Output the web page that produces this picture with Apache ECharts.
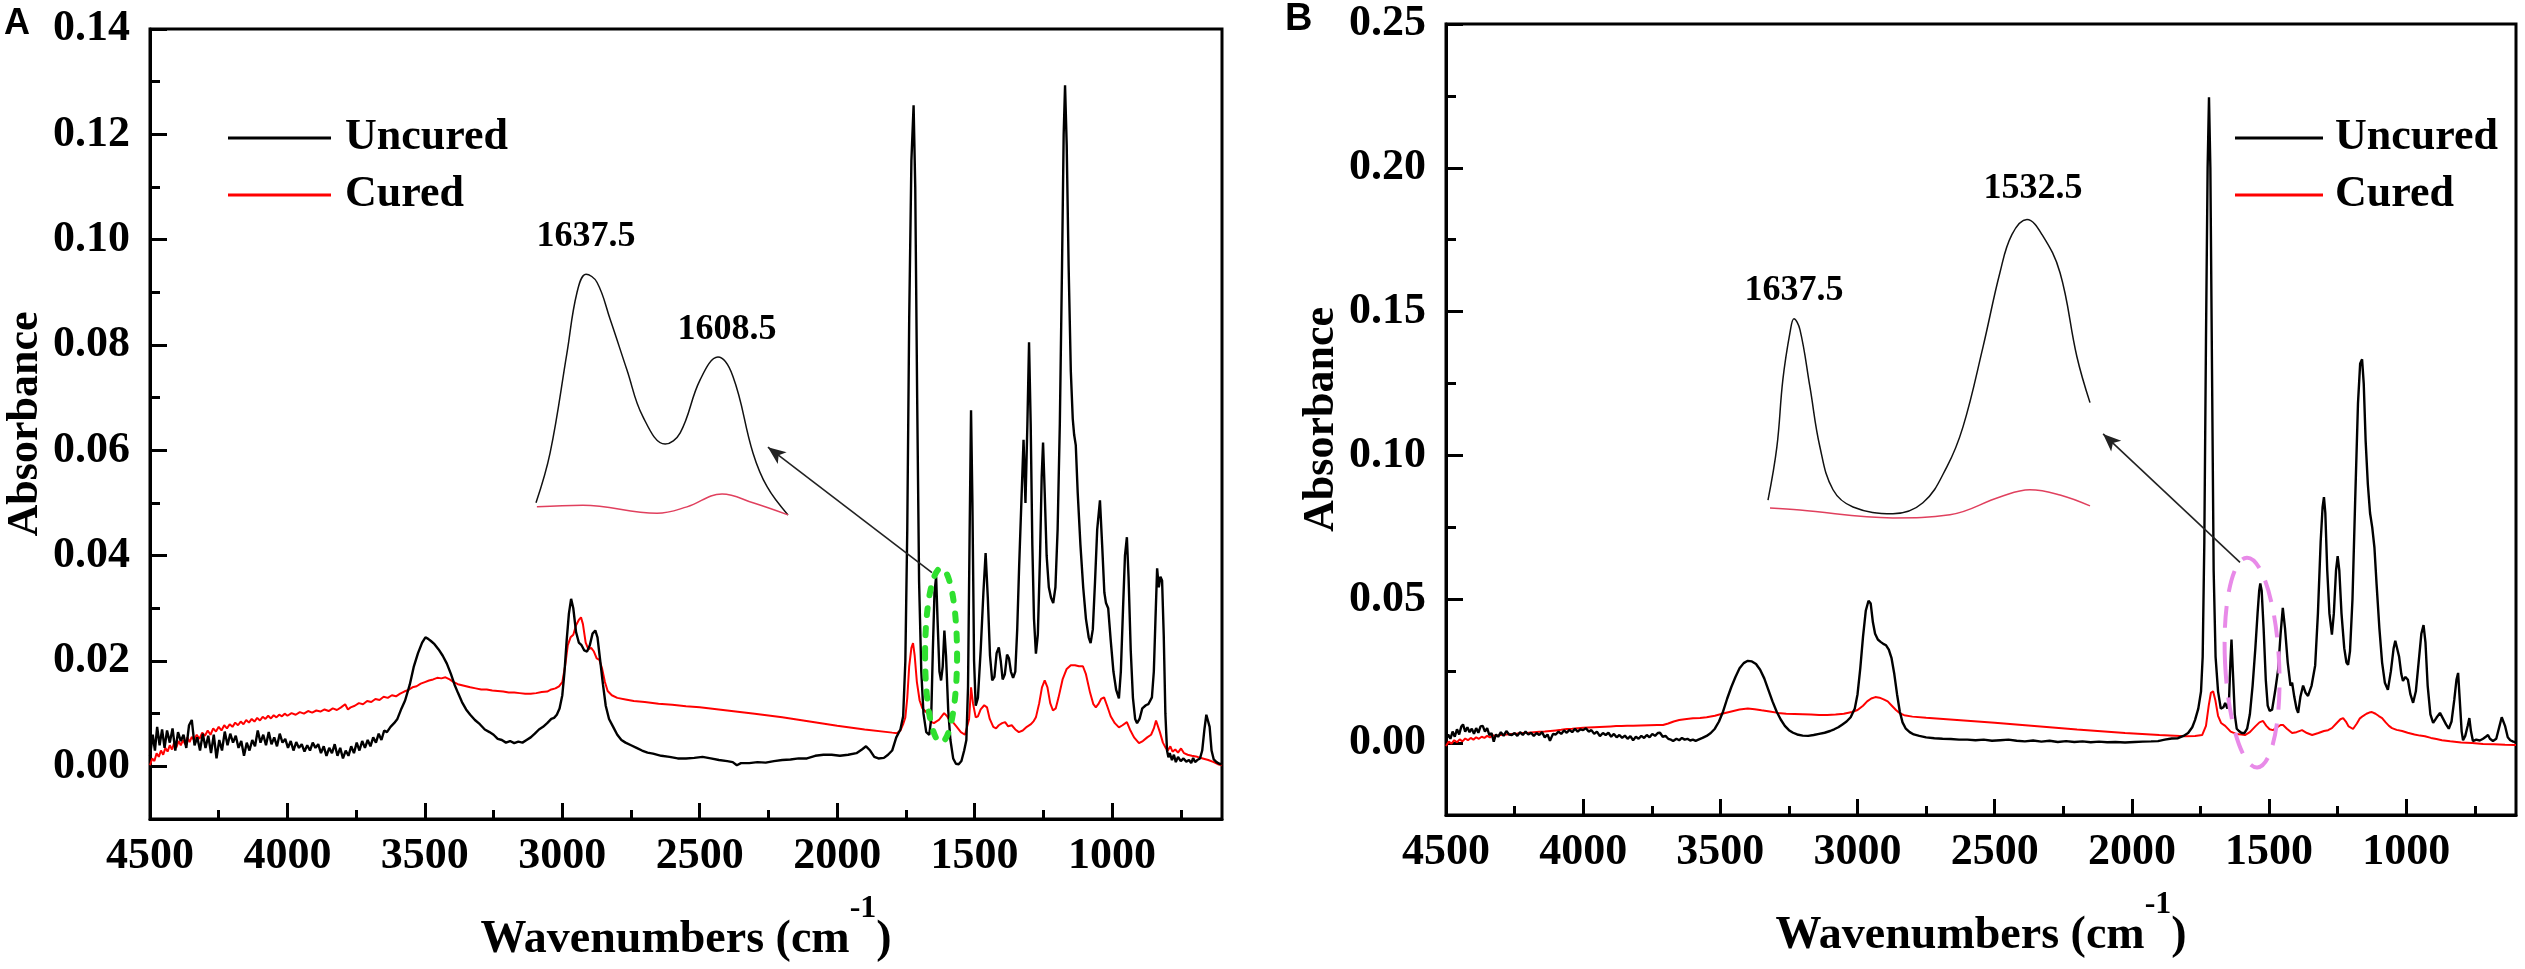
<!DOCTYPE html>
<html>
<head>
<meta charset="utf-8">
<title>FTIR uncured / cured</title>
<script src="https://cdn.jsdelivr.net/npm/echarts@6/dist/echarts.min.js"></script>
<style>
  html, body { margin: 0; padding: 0; background: #fff; }
  #chart { width: 2525px; height: 969px; }
</style>
</head>
<body>
<div id="chart"></div>
<script>
// ---- tick labels ----
var xTicks = [4500, 4000, 3500, 3000, 2500, 2000, 1500, 1000];
var xMinorTicks = [4250, 3750, 3250, 2750, 2250, 1750, 1250, 750];
var yTicksA = [0, 0.02, 0.04, 0.06, 0.08, 0.10, 0.12, 0.14];
var yMinorTicksA = [0.01, 0.03, 0.05, 0.07, 0.09, 0.11, 0.13];
var yTicksB = [0, 0.05, 0.10, 0.15, 0.20, 0.25];
var yMinorTicksB = [0.025, 0.075, 0.125, 0.175, 0.225];
var seriesNames = ['Uncured', 'Cured'];

// ---- panel A spectra [wavenumber, absorbance] ----
var aUncured = [
  [4500,0.002],[4490,0.006],[4482,0.003],[4474,0.0075],[4465,0.004],[4456,0.007],[4447,0.0035],[4438,0.0068],
  [4428,0.0045],[4418,0.0072],[4408,0.003],[4398,0.0065],[4388,0.0048],[4378,0.006],[4368,0.0035],[4358,0.0078],
  [4348,0.0088],[4338,0.004],[4328,0.0055],[4318,0.003],[4308,0.0062],[4298,0.0035],[4288,0.0058],[4278,0.0025],
  [4268,0.006],[4258,0.0015],[4248,0.005],[4238,0.003],[4228,0.0066],[4218,0.004],[4208,0.0062],[4198,0.0045],
  [4188,0.0058],[4178,0.0035],[4168,0.0048],[4158,0.002],[4148,0.0045],[4138,0.003],[4128,0.005],[4118,0.0038],
  [4108,0.0068],[4098,0.0045],[4088,0.006],[4078,0.004],[4068,0.0065],[4058,0.0042],[4048,0.0055],[4038,0.0038],
  [4028,0.0062],[4018,0.0045],[4008,0.0052],[3998,0.0035],[3988,0.0048],[3978,0.003],[3968,0.0046],[3958,0.0035],
  [3948,0.0042],[3938,0.0028],[3928,0.004],[3918,0.003],[3908,0.0045],[3898,0.0035],[3888,0.0042],[3878,0.0025],
  [3868,0.0038],[3858,0.002],[3848,0.0035],[3838,0.0025],[3828,0.0042],[3818,0.002],[3808,0.0035],[3798,0.0015],
  [3788,0.003],[3778,0.002],[3768,0.0038],[3758,0.0025],[3748,0.0045],[3738,0.003],[3728,0.0048],[3718,0.0035],
  [3708,0.005],[3698,0.0038],[3688,0.0055],[3678,0.0045],[3668,0.0062],[3658,0.005],[3648,0.0068],[3638,0.0065],
  [3625,0.0075],[3612,0.0082],[3600,0.009],[3585,0.011],[3572,0.0125],[3555,0.0155],[3540,0.019],[3525,0.0215],
  [3510,0.0235],[3498,0.0245],[3488,0.0242],[3478,0.0238],[3465,0.0232],[3450,0.0222],[3435,0.021],[3420,0.0195],
  [3405,0.0175],[3392,0.0155],[3380,0.014],[3365,0.0122],[3350,0.0108],[3335,0.0098],[3318,0.0088],[3300,0.008],
  [3282,0.007],[3265,0.0065],[3250,0.006],[3235,0.0052],[3220,0.005],[3205,0.0045],[3190,0.0048],[3175,0.0044],
  [3160,0.0047],[3145,0.0045],[3130,0.005],[3115,0.0055],[3100,0.0062],[3085,0.007],[3070,0.0075],[3055,0.0082],
  [3040,0.009],[3030,0.0092],[3020,0.0098],[3010,0.011],[3000,0.0135],[2992,0.018],[2984,0.024],[2976,0.029],
  [2968,0.0318],[2960,0.03],[2950,0.0255],[2940,0.0235],[2930,0.023],[2920,0.022],[2910,0.0218],[2900,0.023],
  [2890,0.0252],[2880,0.0258],[2872,0.0245],[2862,0.02],[2852,0.0155],[2842,0.0115],[2830,0.009],[2815,0.0075],
  [2800,0.006],[2785,0.005],[2770,0.0045],[2750,0.004],[2730,0.0035],[2710,0.003],[2690,0.0026],[2670,0.0024],
  [2640,0.002],[2610,0.0018],[2580,0.0015],[2550,0.0015],[2520,0.0016],[2490,0.0018],[2460,0.0015],[2430,0.0012],
  [2400,0.001],[2380,0.0008],[2365,0.0002],[2350,0.0006],[2320,0.0006],[2290,0.0008],[2260,0.0007],[2230,0.001],
  [2200,0.0012],[2170,0.0013],[2140,0.0015],[2110,0.0015],[2080,0.002],[2050,0.0022],[2020,0.0022],[1990,0.002],
  [1960,0.0022],[1930,0.0025],[1910,0.0032],[1895,0.0038],[1880,0.003],[1865,0.0018],[1850,0.0015],[1830,0.0016],
  [1815,0.0022],[1800,0.003],[1785,0.0055],[1770,0.007],[1760,0.0095],[1752,0.02],[1745,0.045],[1738,0.085],
  [1730,0.115],[1722,0.1255],[1716,0.11],[1709,0.07],[1702,0.035],[1694,0.018],[1686,0.01],[1676,0.0065],
  [1665,0.006],[1658,0.009],[1652,0.022],[1646,0.033],[1640,0.036],[1635,0.028],[1628,0.018],[1622,0.0163],
  [1616,0.019],[1610,0.0258],[1604,0.021],[1596,0.0106],[1588,0.005],[1578,0.0015],[1568,0.0005],[1558,0.0004],
  [1548,0.001],[1538,0.003],[1530,0.005],[1524,0.015],[1518,0.045],[1513,0.0676],[1508,0.05],[1502,0.02],
  [1496,0.0115],[1488,0.013],[1478,0.022],[1468,0.033],[1460,0.0405],[1452,0.032],[1444,0.021],[1436,0.0163],
  [1428,0.017],[1420,0.0215],[1412,0.0226],[1405,0.02],[1398,0.0165],[1390,0.0175],[1382,0.0212],[1375,0.0205],
  [1368,0.018],[1360,0.0168],[1352,0.018],[1345,0.026],[1338,0.038],[1330,0.05],[1322,0.062],[1315,0.05],
  [1308,0.065],[1302,0.0805],[1296,0.065],[1290,0.042],[1284,0.028],[1277,0.0214],[1270,0.025],[1262,0.04],
  [1256,0.055],[1251,0.0615],[1245,0.052],[1238,0.04],[1230,0.034],[1222,0.032],[1214,0.031],[1206,0.034],
  [1198,0.045],[1190,0.065],[1182,0.095],[1176,0.12],[1171,0.1293],[1165,0.118],[1158,0.095],[1150,0.075],
  [1143,0.066],[1138,0.063],[1132,0.061],[1125,0.052],[1115,0.042],[1105,0.034],[1095,0.028],[1085,0.0245],
  [1078,0.0234],[1070,0.026],[1062,0.035],[1054,0.045],[1044,0.0505],[1036,0.042],[1028,0.033],[1022,0.031],
  [1014,0.03],[1005,0.024],[995,0.018],[985,0.0145],[975,0.0129],[968,0.018],[960,0.03],[953,0.04],
  [946,0.0435],[940,0.036],[932,0.022],[924,0.013],[916,0.009],[909,0.0082],[900,0.009],[890,0.011],
  [877,0.0116],[868,0.0118],[855,0.0131],[848,0.018],[842,0.028],[836,0.0376],[830,0.034],[824,0.036],
  [818,0.0353],[812,0.025],[806,0.01],[800,0.003],[795,0.0017],[790,0.0025],[782,0.0012],[775,0.0022],
  [768,0.0008],[760,0.0018],[750,0.001],[740,0.0015],[730,0.0009],[720,0.0012],[712,0.0006],[705,0.0016],
  [698,0.0008],[690,0.0012],[680,0.0015],[672,0.003],[664,0.007],[657,0.0098],[651,0.01],[645,0.0075],
  [638,0.003],[630,0.0013],[620,0.0008],[610,0.0005],[600,0.0004]
];
var aCured = [
  [4500,0.0002],[4492,0.0015],[4484,0.001],[4476,0.0025],[4468,0.0018],[4460,0.003],[4452,0.0022],[4444,0.0035],
  [4436,0.0028],[4428,0.004],[4420,0.0032],[4412,0.0045],[4404,0.0036],[4396,0.0048],[4388,0.004],[4380,0.005],
  [4372,0.0042],[4364,0.0055],[4356,0.0046],[4348,0.0056],[4340,0.005],[4330,0.006],[4320,0.0052],[4310,0.0064],
  [4300,0.0058],[4290,0.0068],[4280,0.006],[4270,0.0072],[4260,0.0066],[4250,0.0075],[4240,0.0068],[4230,0.0078],
  [4220,0.0072],[4210,0.008],[4200,0.0075],[4190,0.0083],[4180,0.0078],[4170,0.0085],[4160,0.008],[4150,0.0088],
  [4140,0.0083],[4130,0.009],[4120,0.0085],[4110,0.0092],[4100,0.0087],[4090,0.0094],[4080,0.009],[4070,0.0096],
  [4060,0.0091],[4050,0.0097],[4040,0.0093],[4030,0.0098],[4020,0.0095],[4010,0.01],[4000,0.0096],[3985,0.0101],
  [3970,0.0098],[3955,0.0103],[3940,0.01],[3925,0.0105],[3910,0.0102],[3895,0.0106],[3880,0.0104],[3865,0.0108],
  [3850,0.0105],[3835,0.011],[3820,0.0107],[3805,0.0112],[3790,0.0118],[3780,0.0108],[3770,0.0112],[3755,0.0115],
  [3740,0.012],[3725,0.0118],[3710,0.0124],[3695,0.0122],[3680,0.0128],[3665,0.0126],[3650,0.0132],[3635,0.013],
  [3620,0.0135],[3605,0.0133],[3590,0.0138],[3575,0.0142],[3560,0.0145],[3545,0.015],[3530,0.0152],[3515,0.0157],
  [3500,0.016],[3485,0.0163],[3470,0.0165],[3455,0.0168],[3440,0.0167],[3425,0.0169],[3410,0.0165],[3395,0.016],
  [3380,0.0156],[3365,0.0154],[3350,0.0152],[3335,0.015],[3315,0.0148],[3295,0.0146],[3275,0.0146],[3255,0.0144],
  [3235,0.0143],[3215,0.0142],[3195,0.014],[3175,0.014],[3155,0.0139],[3135,0.0138],[3115,0.0138],[3095,0.0139],
  [3075,0.0141],[3055,0.0142],[3040,0.0146],[3025,0.0148],[3012,0.0152],[3000,0.016],[2990,0.019],[2980,0.023],
  [2970,0.0245],[2960,0.025],[2950,0.0268],[2940,0.0278],[2932,0.0283],[2925,0.027],[2915,0.0235],[2905,0.0222],
  [2895,0.0225],[2885,0.0218],[2875,0.0205],[2865,0.0202],[2855,0.0185],[2845,0.016],[2835,0.0143],[2820,0.0135],
  [2800,0.013],[2770,0.0127],[2740,0.0124],[2700,0.0122],[2650,0.0119],[2600,0.0117],[2550,0.0114],[2500,0.0112],
  [2400,0.0106],[2300,0.01],[2200,0.0093],[2100,0.0085],[2000,0.0077],[1900,0.007],[1800,0.0064],[1782,0.0063],
  [1770,0.0068],[1760,0.008],[1752,0.0093],[1745,0.013],[1738,0.019],[1730,0.0225],[1724,0.0234],[1718,0.021],
  [1710,0.016],[1700,0.0125],[1690,0.011],[1680,0.0105],[1670,0.01],[1660,0.0085],[1655,0.0082],[1648,0.0082],
  [1640,0.0085],[1630,0.0088],[1620,0.0095],[1611,0.0101],[1600,0.0095],[1590,0.0086],[1579,0.0084],[1565,0.0075],
  [1550,0.0065],[1535,0.006],[1528,0.0059],[1520,0.009],[1513,0.015],[1506,0.012],[1496,0.0093],[1488,0.0095],
  [1478,0.0108],[1465,0.0116],[1455,0.0112],[1445,0.009],[1432,0.0075],[1422,0.0072],[1412,0.0078],[1400,0.0082],
  [1389,0.0084],[1378,0.0076],[1365,0.0078],[1352,0.007],[1339,0.0065],[1325,0.0068],[1310,0.0075],[1295,0.008],
  [1285,0.0086],[1277,0.0093],[1265,0.012],[1255,0.015],[1245,0.0163],[1235,0.015],[1225,0.012],[1215,0.0106],
  [1205,0.011],[1195,0.013],[1180,0.0165],[1165,0.0185],[1150,0.0192],[1135,0.0192],[1120,0.019],[1106,0.019],
  [1095,0.0175],[1080,0.014],[1068,0.0118],[1059,0.0112],[1050,0.0118],[1040,0.0128],[1029,0.0131],[1018,0.0115],
  [1005,0.0095],[990,0.0082],[975,0.0074],[962,0.0078],[946,0.0084],[935,0.007],[920,0.0055],[902,0.0044],
  [888,0.0048],[872,0.0055],[858,0.006],[848,0.0072],[840,0.0087],[833,0.0087],[826,0.0065],[815,0.0045],
  [805,0.0035],[797,0.003],[788,0.0038],[780,0.0028],[770,0.0032],[760,0.0026],[749,0.0034],[738,0.0025],
  [725,0.0022],[710,0.002],[690,0.0018],[670,0.0015],[650,0.0012],[630,0.0008],[615,0.0004],[600,0.0002]
];

// ---- panel B spectra ----
var bUncured = [
  [4500,0.001],[4492,0.003],[4484,0.0015],[4476,0.004],[4468,0.0022],[4460,0.0048],[4452,0.003],[4444,0.0058],
  [4438,0.0065],[4430,0.004],[4422,0.0055],[4414,0.0038],[4406,0.005],[4398,0.0032],[4390,0.0052],[4382,0.0036],
  [4374,0.0058],[4366,0.006],[4358,0.004],[4350,0.0052],[4342,0.0028],[4334,0.0035],[4326,0.0005],[4318,0.003],
  [4310,0.0022],[4300,0.0038],[4290,0.0025],[4280,0.0042],[4270,0.003],[4260,0.0028],[4250,0.0035],[4240,0.0025],
  [4230,0.0038],[4220,0.0028],[4210,0.004],[4200,0.003],[4190,0.0036],[4180,0.0025],[4170,0.0035],[4160,0.0028],
  [4150,0.0038],[4140,0.002],[4130,0.003],[4121,0.0008],[4110,0.0032],[4100,0.003],[4090,0.004],[4080,0.0032],
  [4070,0.0044],[4060,0.0036],[4050,0.0046],[4040,0.0038],[4030,0.005],[4020,0.004],[4010,0.0048],[4000,0.0045],
  [3990,0.0052],[3980,0.004],[3970,0.0045],[3960,0.0032],[3950,0.004],[3939,0.0024],[3928,0.0035],[3918,0.0028],
  [3908,0.0036],[3898,0.0022],[3888,0.0032],[3878,0.002],[3868,0.0028],[3858,0.0018],[3848,0.0026],[3838,0.0015],
  [3828,0.0024],[3818,0.001],[3808,0.0022],[3798,0.0015],[3788,0.0025],[3778,0.0018],[3768,0.0028],[3758,0.002],
  [3748,0.0032],[3738,0.0025],[3728,0.0035],[3720,0.0036],[3710,0.0022],[3700,0.0025],[3690,0.0015],[3680,0.0012],
  [3672,0.0007],[3660,0.0015],[3650,0.001],[3640,0.0018],[3630,0.0012],[3620,0.0015],[3610,0.0009],[3600,0.0012],
  [3590,0.0008],[3580,0.0012],[3565,0.0018],[3550,0.0025],[3535,0.0035],[3520,0.005],[3505,0.0075],[3490,0.011],
  [3475,0.0155],[3460,0.0195],[3445,0.023],[3430,0.026],[3415,0.0278],[3400,0.0286],[3385,0.0284],[3370,0.0275],
  [3355,0.0255],[3340,0.0225],[3325,0.0185],[3310,0.0145],[3295,0.011],[3280,0.0082],[3265,0.006],[3250,0.0045],
  [3235,0.0036],[3220,0.003],[3200,0.0026],[3180,0.0025],[3160,0.0028],[3140,0.0032],[3120,0.0036],[3100,0.0042],
  [3085,0.0048],[3070,0.0055],[3055,0.0065],[3040,0.0075],[3025,0.009],[3010,0.012],[3000,0.017],[2990,0.026],
  [2980,0.037],[2970,0.046],[2960,0.0495],[2952,0.0485],[2944,0.042],[2936,0.038],[2926,0.036],[2916,0.0352],
  [2906,0.0345],[2896,0.034],[2886,0.0325],[2876,0.0295],[2866,0.024],[2856,0.017],[2846,0.011],[2836,0.0072],
  [2824,0.005],[2810,0.0038],[2795,0.003],[2775,0.0025],[2750,0.002],[2720,0.0017],[2690,0.0015],[2660,0.0014],
  [2630,0.0012],[2600,0.0012],[2570,0.001],[2540,0.0012],[2510,0.0008],[2480,0.001],[2450,0.0012],[2420,0.0008],
  [2390,0.0006],[2360,0.0009],[2330,0.0005],[2300,0.0008],[2270,0.0004],[2240,0.0007],[2210,0.0004],[2180,0.0006],
  [2150,0.0003],[2120,0.0005],[2090,0.0003],[2060,0.0004],[2025,0.0002],[1990,0.0004],[1960,0.0005],[1930,0.0006],
  [1905,0.0007],[1880,0.0012],[1855,0.0016],[1832,0.0017],[1812,0.0025],[1795,0.0035],[1780,0.0055],[1770,0.008],
  [1758,0.012],[1748,0.018],[1742,0.03],[1736,0.07],[1730,0.14],[1724,0.2],[1719,0.2245],[1714,0.2],
  [1708,0.13],[1702,0.06],[1695,0.03],[1686,0.018],[1676,0.012],[1666,0.0125],[1660,0.014],[1652,0.012],
  [1646,0.015],[1641,0.028],[1637,0.036],[1632,0.025],[1625,0.01],[1618,0.005],[1610,0.0042],[1600,0.0035],
  [1590,0.0035],[1580,0.005],[1570,0.01],[1560,0.02],[1550,0.033],[1542,0.045],[1536,0.053],[1532,0.0555],
  [1527,0.053],[1520,0.04],[1512,0.022],[1505,0.013],[1498,0.0112],[1489,0.0116],[1478,0.018],[1467,0.0255],
  [1458,0.038],[1450,0.047],[1442,0.04],[1432,0.028],[1422,0.02],[1416,0.021],[1408,0.016],[1400,0.012],
  [1394,0.0105],[1386,0.016],[1376,0.02],[1367,0.0175],[1358,0.0164],[1345,0.02],[1332,0.027],[1322,0.045],
  [1312,0.07],[1305,0.082],[1300,0.0855],[1295,0.08],[1288,0.06],[1280,0.045],[1271,0.0377],[1264,0.045],
  [1256,0.06],[1250,0.065],[1244,0.06],[1236,0.045],[1226,0.033],[1218,0.028],[1212,0.0272],[1205,0.032],
  [1196,0.05],[1186,0.085],[1176,0.118],[1168,0.132],[1161,0.1334],[1155,0.125],[1148,0.105],[1140,0.09],
  [1132,0.08],[1124,0.075],[1116,0.068],[1108,0.055],[1098,0.04],[1088,0.028],[1078,0.021],[1067,0.0185],
  [1056,0.025],[1046,0.033],[1040,0.0356],[1034,0.0356],[1026,0.03],[1018,0.024],[1012,0.0216],[1003,0.023],
  [994,0.022],[985,0.017],[975,0.014],[965,0.018],[955,0.028],[945,0.038],[937,0.041],[930,0.035],
  [922,0.02],[912,0.01],[902,0.007],[890,0.0088],[877,0.0105],[866,0.0085],[855,0.0065],[845,0.005],
  [835,0.0075],[825,0.015],[817,0.022],[811,0.0244],[805,0.015],[798,0.004],[793,0.001],[785,0.0025],
  [776,0.006],[770,0.0087],[764,0.004],[757,0.0007],[745,0.0012],[732,0.0009],[720,0.0015],[710,0.0022],
  [702,0.0028],[695,0.0015],[684,0.0007],[672,0.0015],[660,0.006],[652,0.009],[646,0.0094],[640,0.006],
  [630,0.002],[621,0.001],[610,0.0005],[600,0.0003]
];
var bCured = [
  [4500,-0.001],[4490,0.0005],[4480,-0.0002],[4470,0.001],[4460,0.0003],[4450,0.0013],[4440,0.0006],[4430,0.0016],
  [4420,0.001],[4410,0.0018],[4400,0.0012],[4390,0.002],[4380,0.0015],[4370,0.0022],[4360,0.0018],[4350,0.0025],
  [4340,0.002],[4330,0.0027],[4320,0.0024],[4303,0.0028],[4280,0.003],[4260,0.0032],[4240,0.0033],[4220,0.0035],
  [4200,0.0036],[4180,0.0038],[4160,0.0039],[4140,0.004],[4120,0.0042],[4100,0.0044],[4080,0.0046],[4059,0.0049],
  [4040,0.005],[4020,0.0052],[4000,0.0053],[3980,0.0054],[3960,0.0055],[3940,0.0056],[3920,0.0057],[3900,0.0058],
  [3880,0.0059],[3860,0.0059],[3840,0.006],[3818,0.006],[3790,0.0061],[3760,0.0062],[3730,0.0063],[3709,0.0063],
  [3690,0.0068],[3670,0.0075],[3650,0.008],[3630,0.0083],[3600,0.0086],[3574,0.0087],[3550,0.009],[3520,0.0095],
  [3490,0.0103],[3460,0.011],[3430,0.0117],[3400,0.012],[3375,0.0118],[3350,0.0114],[3320,0.011],[3290,0.0105],
  [3260,0.0102],[3230,0.0101],[3200,0.01],[3170,0.0099],[3140,0.0098],[3110,0.0098],[3080,0.0099],[3050,0.0102],
  [3020,0.0108],[3000,0.0115],[2980,0.013],[2965,0.0145],[2950,0.0155],[2935,0.016],[2920,0.0158],[2905,0.0152],
  [2890,0.0145],[2875,0.013],[2860,0.0115],[2845,0.0103],[2830,0.0097],[2800,0.0092],[2750,0.0088],[2700,0.0085],
  [2600,0.0078],[2500,0.0071],[2400,0.0063],[2300,0.0055],[2200,0.0047],[2100,0.004],[2025,0.0035],[1900,0.0028],
  [1806,0.0024],[1770,0.0025],[1744,0.0028],[1730,0.006],[1720,0.013],[1712,0.0175],[1704,0.018],[1696,0.015],
  [1686,0.0095],[1675,0.007],[1660,0.006],[1640,0.004],[1620,0.0032],[1600,0.003],[1588,0.0028],[1570,0.0038],
  [1550,0.0058],[1535,0.0072],[1522,0.0077],[1510,0.006],[1498,0.0048],[1486,0.0045],[1470,0.0055],[1458,0.0063],
  [1449,0.0063],[1435,0.005],[1416,0.0035],[1400,0.0038],[1380,0.0045],[1362,0.0035],[1343,0.0028],[1320,0.0035],
  [1300,0.0042],[1285,0.0045],[1271,0.0052],[1255,0.0068],[1240,0.0083],[1230,0.0087],[1220,0.0075],[1210,0.0058],
  [1194,0.0049],[1180,0.0068],[1170,0.0085],[1158,0.0094],[1145,0.0102],[1135,0.0106],[1125,0.0108],[1112,0.0102],
  [1100,0.0094],[1088,0.0087],[1075,0.0072],[1063,0.006],[1052,0.0052],[1035,0.0046],[1015,0.0042],[995,0.0036],
  [970,0.003],[950,0.0026],[932,0.0024],[910,0.0018],[890,0.0014],[870,0.001],[840,0.0006],[800,0.0002],
  [760,0],[720,-0.0003],[680,-0.0004],[640,-0.0006],[600,-0.0007]
];

// ---- enlarged views of the C=C region ----
var aInsetUncured = [
  [1648.5,0.0076],[1645.4,0.0138],[1641.7,0.0262],[1639.5,0.0337],[1637.5,0.036],[1635.1,0.035],[1632.2,0.0304],
  [1628.5,0.0241],[1625,0.0183],[1620.1,0.0149],[1616.8,0.0163],[1612.4,0.0229],[1608.5,0.0257],[1605.2,0.0233],
  [1600.8,0.0138],[1597.7,0.0096],[1593.1,0.0061]
];
var aInsetCured = [
  [1648.3,0.0071],[1638.2,0.0073],[1621.9,0.0063],[1615.3,0.0071],[1607.6,0.0087],[1600.8,0.0076],[1593.1,0.0061]
];
var aInsetPeaks = [[1637.5, 0.036], [1608.5, 0.0257]];
var bInsetUncured = [
  [1649.2,0.0038],[1645.2,0.014],[1642.5,0.0269],[1639.3,0.0359],[1637.5,0.0386],[1634.8,0.0365],[1630.3,0.0255],
  [1625.8,0.014],[1619.9,0.0058],[1610.9,0.0025],[1592.9,0.0012],[1579.4,0.0033],[1568.6,0.0102],[1561.3,0.0179],
  [1552.3,0.0332],[1544.7,0.0474],[1539.3,0.0547],[1532.5,0.0576],[1525.7,0.0547],[1517.6,0.0474],[1510,0.0313],
  [1504.1,0.0225]
];
var bInsetCured = [
  [1648.3,0.0023],[1634.8,0.0019],[1592.9,0.0004],[1567.2,0.001],[1544.7,0.0044],[1531.2,0.0058],[1517.6,0.0048],
  [1504.1,0.0027]
];
var bInsetPeaks = [[1637.5, 0.0386], [1532.5, 0.0576]];

var SERIF = 'Liberation Serif';
var BLACK = '#000000';
var RED = '#ff0000';

function mainX(grid, minor) {
  return {
    type: 'value', gridIndex: grid, min: 600, max: 4500, inverse: true, position: 'bottom',
    name: minor ? '' : '{m|Wavenumbers (cm}{sup|-1}{m|)}',
    nameLocation: 'middle', nameGap: 74,
    nameTextStyle: {
      rich: {
        // tall main token, superscript pinned to the top of the line
        m: { fontFamily: SERIF, fontWeight: 'bold', fontSize: 46, color: BLACK, lineHeight: 70, verticalAlign: 'bottom' },
        sup: { fontFamily: SERIF, fontWeight: 'bold', fontSize: 32, color: BLACK, lineHeight: 26, verticalAlign: 'top' }
      }
    },
    axisLine: { show: !minor, onZero: false, lineStyle: { color: BLACK, width: 3 } },
    axisTick: { show: true, inside: true, length: minor ? 9 : 16, customValues: minor ? xMinorTicks : xTicks, lineStyle: { color: BLACK, width: 3 } },
    axisLabel: {
      show: !minor, customValues: xTicks, margin: 16, fontFamily: SERIF, fontWeight: 'bold', fontSize: 44, color: BLACK,
      formatter: function (v) { return String(v); }
    },
    splitLine: { show: false }
  };
}

function mainY(grid, min, max, ticks, minorTicks, minor) {
  return {
    type: 'value', gridIndex: grid, min: min, max: max, position: 'left',
    name: minor ? '' : 'Absorbance', nameLocation: 'middle', nameGap: 102, nameRotate: 90,
    nameTextStyle: { fontFamily: SERIF, fontWeight: 'bold', fontSize: 44, color: BLACK },
    axisLine: { show: !minor, onZero: false, lineStyle: { color: BLACK, width: 3 } },
    axisTick: { show: true, inside: true, length: minor ? 10 : 17, customValues: minor ? minorTicks : ticks, lineStyle: { color: BLACK, width: 3 } },
    axisLabel: {
      show: !minor, customValues: ticks, margin: 20, fontFamily: SERIF, fontWeight: 'bold', fontSize: 44, color: BLACK,
      formatter: function (v) { return v.toFixed(2); }
    },
    splitLine: { show: false }
  };
}

function hiddenAxis(grid, min, max, inverse) {
  return { type: 'value', gridIndex: grid, min: min, max: max, inverse: inverse, show: false, splitLine: { show: false } };
}

function peakLabels(peaks, specs) {
  return {
    symbol: 'circle', symbolSize: 1, itemStyle: { color: 'rgba(0,0,0,0)' }, silent: true,
    data: peaks.map(function (p, i) {
      return {
        coord: p, value: p[0],
        label: {
          show: true, position: 'top', distance: specs[i].distance, offset: [specs[i].dx, 0],
          formatter: p[0].toFixed(1), fontFamily: SERIF, fontWeight: 'bold', fontSize: 36, color: BLACK
        }
      };
    })
  };
}

function arrow(from, to) {
  return {
    silent: true, symbol: ['none', 'arrow'], symbolSize: [11, 18], animation: false,
    lineStyle: { color: '#222', width: 1.6, type: 'solid' },
    label: { show: false },
    data: [[{ coord: from }, { coord: to }]]
  };
}

function line(name, data, xi, yi, color, width, extra) {
  var s = {
    name: name, type: 'line', data: data, xAxisIndex: xi, yAxisIndex: yi,
    showSymbol: false, symbol: 'none', color: color, lineStyle: { color: color, width: width },
    silent: true, animation: false
  };
  for (var k in extra) s[k] = extra[k];
  return s;
}

function legend(left, width, gap) {
  return {
    left: left, top: 111, orient: 'vertical', data: seriesNames, icon: 'rect',
    itemWidth: width, itemHeight: 3, itemGap: 13, selectedMode: false,
    textStyle: { fontFamily: SERIF, fontWeight: 'bold', fontSize: 44, color: BLACK, padding: [0, 0, 0, gap] }
  };
}

var chart = echarts.init(document.getElementById('chart'), null, { renderer: 'canvas' });

var option = {
  backgroundColor: '#ffffff',
  animation: false,
  legend: [legend(223, 103, 9), legend(2230, 88, 7)],
  grid: [
    { left: 150, top: 29, width: 1072, height: 790, show: true, borderColor: BLACK, borderWidth: 3 },
    { left: 1446, top: 24, width: 1070, height: 791, show: true, borderColor: BLACK, borderWidth: 3 },
    { left: 536, top: 242, width: 252, height: 322 },
    { left: 1768, top: 207, width: 322, height: 313 }
  ],
  xAxis: [
    mainX(0, false), mainX(0, true), mainX(1, false), mainX(1, true),
    hiddenAxis(2, 1593.1, 1648.5, true), hiddenAxis(3, 1504.1, 1649.2, true)
  ],
  yAxis: [
    mainY(0, -0.01, 0.14, yTicksA, yMinorTicksA, false), mainY(0, -0.01, 0.14, yTicksA, yMinorTicksA, true),
    mainY(1, -0.025, 0.25, yTicksB, yMinorTicksB, false), mainY(1, -0.025, 0.25, yTicksB, yMinorTicksB, true),
    hiddenAxis(2, 0, 0.04, false), hiddenAxis(3, 0, 0.06, false)
  ],
  series: [
    line('Uncured', aUncured, 0, 0, BLACK, 2.4, { z: 3, markLine: arrow([1655, 0.0368], [2252, 0.0606]) }),
    line('Cured', aCured, 0, 0, RED, 2, { z: 2 }),
    line('Uncured', bUncured, 2, 2, BLACK, 2.4, { z: 3, markLine: arrow([1606, 0.0628], [2105, 0.1075]) }),
    line('Cured', bCured, 2, 2, RED, 2, { z: 2 }),
    line('Uncured A inset', aInsetUncured, 4, 4, '#111', 1.5, {
      smooth: 0.4, markPoint: peakLabels(aInsetPeaks, [{ distance: 19, dx: 0 }, { distance: 9, dx: 9 }])
    }),
    line('Cured A inset', aInsetCured, 4, 4, '#e0405e', 1.5, { smooth: 0.4 }),
    line('Uncured B inset', bInsetUncured, 5, 5, '#111', 1.5, {
      smooth: 0.4, markPoint: peakLabels(bInsetPeaks, [{ distance: 9, dx: 0 }, { distance: 12, dx: 6 }])
    }),
    line('Cured B inset', bInsetCured, 5, 5, '#e0405e', 1.5, { smooth: 0.4 })
  ]
};
chart.setOption(option);

// dashed rings around the C=C bands, placed in data coordinates
var ringA = chart.convertToPixel({ xAxisIndex: 0, yAxisIndex: 0 }, [1622, 0.0211]);
var ringB = chart.convertToPixel({ xAxisIndex: 2, yAxisIndex: 2 }, [1562, 0.028]);

chart.setOption({
  graphic: [
    { type: 'text', left: 4, top: 6, style: { text: 'A', font: 'bold 36px "Liberation Sans"', fill: BLACK } },
    { type: 'text', left: 1285, top: 1, style: { text: 'B', font: 'bold 38px "Liberation Sans"', fill: BLACK } },
    {
      type: 'ellipse', x: ringA[0], y: ringA[1], shape: { cx: 0, cy: 0, rx: 16, ry: 87 }, z: 10,
      style: { fill: 'none', stroke: '#2fe02f', lineWidth: 6, lineDash: [7, 13], lineCap: 'round' }
    },
    {
      type: 'ellipse', x: ringB[0], y: ringB[1], rotation: 0.05, shape: { cx: 0, cy: 0, rx: 27, ry: 105 }, z: 10,
      style: { fill: 'none', stroke: '#e88ae8', lineWidth: 4, lineDash: [22, 14] }
    }
  ]
});
</script>
</body>
</html>
